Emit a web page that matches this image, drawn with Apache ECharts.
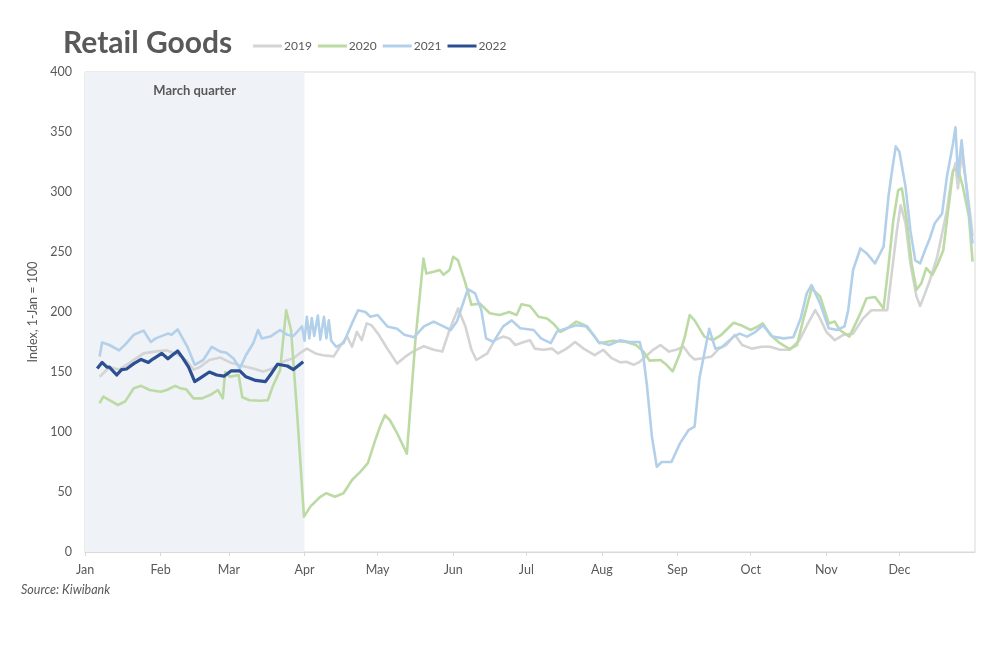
<!DOCTYPE html>
<html>
<head>
<meta charset="utf-8">
<script src="https://cdn.jsdelivr.net/npm/echarts@6/dist/echarts.min.js"></script>
<style>html,body{margin:0;padding:0;background:#fff}#c{width:1000px;height:664px}</style>
</head>
<body>
<div id="c"></div>
<script>
// ---- data (day of year, index value) ----
const monthNames = ['Jan','Feb','Mar','Apr','May','Jun','Jul','Aug','Sep','Oct','Nov','Dec'];
const monthStarts = [0,31,59,90,120,151,181,212,243,273,304,334];
const yTicks = [0,50,100,150,200,250,300,350,400];
const seriesNames = ['2019','2020','2021','2022'];

const days2019 = [6,10,14,18.5,24,28.5,33.5,37.5,41.5,44.5,47,51,55.5,59.5,62,65.5,69,73,77,81,85.5,88,91,94.5,97.5,102,104.5,107.5,109.5,111.5,113.5,115.5,117.5,120.5,123.5,128,131.5,134.5,139,143,146.5,149.5,153,156,158.5,160.5,165,168,171.5,174,176.5,180,182.5,184.5,188,191.5,194,197.5,201,204.5,209,212.5,216,219.5,222,225,227.5,230.5,233,236,239.5,242.5,245.5,248,250,253.5,257,260,263,266.5,269.5,273.5,277.5,281,285,289,293,296.5,299.5,301.5,304,307.5,311,315,319,322.5,326,329,331,333,334.5,336.5,338.5,341,342.5,344.5,346.5,349.5,351.5,353.5,355.5,357,358,359.5,361,363,364];
const vals2019 = [146,154,152,158,165.5,167,168,165,160,152,154,160,162,158,156.5,154.5,153,150.5,153,158.5,161.5,165.5,169.5,165.5,164,163,171,179.5,171,183.5,176.5,190.5,189,181,171,157,163,167,171.5,168.5,167,185,203,188,168.5,160,165.5,176.5,179.5,178,172.5,175,176.5,169.5,168.5,169.5,165.5,169.5,175,169.5,164,168.5,161.5,158,158.5,156,158.5,164,168.5,172.5,167,168.5,171,164,160.5,161.5,163,169.5,172.5,181,172.5,169.5,171,171,168.5,168.5,176.5,190.5,201.5,194.5,183.5,176.5,181,182,194.5,201.5,201.5,201.5,235,268,289,274,240.5,213,205,215.5,226.5,246,265.5,285,313,324,303,332,313,282,263];

const days2020 = [6,7.5,10,13.5,16.5,20,23,26.5,31,33.5,37,39,41.5,44.5,48,51.5,54.5,56.5,57.5,59.5,63,64.5,67.5,72,75,77,80,82.5,84.5,87,89.8,92.5,96.5,99,102.5,106,109.5,113,116,119,121,123,125,128,132,135.5,138.8,140,143,145.5,147,149.5,151,153,156,158.5,162,166,170,174,177,179,182.5,186,189.5,192,195,197.5,201.5,205,208.5,211,216.5,222,226,229,231.5,236,238.5,241,244,246,248,250,254,257.5,261,266,269,273,276,278,281,285,289,292,294.5,298,301.5,305,307.5,309.5,313.5,318,320.5,324,327.5,329.5,331.5,333.5,335,337,339,341,343,345,347.5,349.5,352,354,356,358,360,362.5,364];
const vals2020 = [124,129.5,126.5,122.5,125.5,136.5,138.5,135,133.5,135,138.5,136.5,135.5,128,128,131,135,128,150,146,147.5,129,126.5,126,126.5,138,151.5,201.5,185,115.5,29.5,38,46,49,46,49,60,67,74,93,104.5,114,110,99,82,176.5,244.5,232,233.5,235,231,235,246,243,224,206,207,199,197.5,200,197.5,206.5,205,196,194.5,190.5,183.5,186,192,189,181,174,176,175,172.5,167,159.5,160,156,150.5,165.5,179.5,197.5,193,179.5,176.5,181,191,189,185,188,190.5,181,174,169,172.5,193,219.5,213,190.5,192,185,179.5,199,211.5,212.5,203,238,276.5,301.5,303,276.5,240.5,218.5,224,236.5,231,239,251.5,285,318,319.5,304.5,279.5,242];

const days2021 = [6,7,10,14,17,20,24,27,29,34,35.5,38,42,45,48.5,52,55.5,58,61,63.5,66,69,71,72.5,76,80,83,85.5,89,90,91,92,93,94,95.5,96.5,98,99,100,101,103,106,109.5,112,115,117,120,124,128,131,135,139,143,147,150,152.5,155,157,160,162.5,164.5,167.5,171.5,175,178.5,184,187,191,193.5,197.5,201.5,206,210.5,215,219.5,223.5,227.5,229,230.5,232.5,234.5,236.5,240.5,244,247.5,250,252,256,258.5,261,266,268.5,271.5,275,278,282,286.5,290.5,293.5,296,298,301.5,305,308.5,311.5,313,315,318,320.5,324,327.5,329.5,331,332.5,334,336.5,338.5,340.5,342.5,344.5,346.5,348.5,351.5,353.5,356,357,358,359.5,361,363,364];
const vals2021 = [163,174.5,172.5,168,174,181,184.5,175,178,182,181,185.5,171,156,160,171,167,166,161,153,164,174,185,178,179.5,185,181,180,188,176,196,178,195,180,197,177,196,178,193,176,171,174,190.5,201.5,200,196,197.5,188,186,181,179,188,192,188,185,192,207,219,215.5,202,178,175,188,193,186.5,185,178,174,183.5,186.5,189,188,175,172.5,176.5,175,175,163,138,96,71,75,75,90.5,101.5,104.5,145,186,169.5,170.5,179.5,182,179.5,183.5,189,179.5,178,179,194.5,215.5,222.5,207,186.5,185,188,201.5,235,253,249,240.5,254.5,296,318,338,333.5,304.5,268,243,240.5,251.5,261.5,274,282,313,340.5,354,313,343,313,276.5,257];

const days2022 = [5,7,9,10,13,15,17,20,23,26,28,31.5,34,35.5,38,40,42.5,45,48,51,54,57,60,63.5,66,70,74,76.5,79,83,85.5,89.5];
const vals2022 = [153,158,154,154,147.5,152,152.5,157,160.5,158,161,165.5,161,163.5,167.5,162,154,142,146,150,147.5,146.5,151,151,146,143,142,149,156.5,155,152,158.5];

const quarterStart = 0, quarterEnd = 90;

function zip(d, v){ return d.map((x,i)=>[x, v[i]]); }

const TXT = '#595959';
const FONT = 'Lato';
const chart = echarts.init(document.getElementById('c'), null, {renderer:'canvas'});

const lineDefs = [
  {name: seriesNames[0], d: zip(days2019, vals2019), color:'#d4d4d4', w:2.6},
  {name: seriesNames[1], d: zip(days2020, vals2020), color:'#bcdaa4', w:2.6},
  {name: seriesNames[2], d: zip(days2021, vals2021), color:'#b3d0ea', w:2.6},
  {name: seriesNames[3], d: zip(days2022, vals2022), color:'#2c4f92', w:3.2}
];

const series = [{
  type:'line', data:[], z:1, silent:true,
  markArea:{
    silent:true,
    itemStyle:{color:'#eff2f7'},
    label:{show:true, position:'insideTop', distance:12, color:TXT, fontFamily:FONT, fontWeight:'bold', fontSize:13},
    data:[[{name:'March quarter', xAxis:quarterStart},{xAxis:quarterEnd}]]
  }
}].concat(lineDefs.map((s,i)=>({
  name:s.name, type:'line', data:s.d, showSymbol:false, symbol:'none', z:2+i,
  lineStyle:{color:s.color, width:s.w, join:'round'}, itemStyle:{color:s.color},
  animation:false
})));

chart.setOption({
  animation:false,
  backgroundColor:'#fff',
  textStyle:{fontFamily:FONT},
  title:{text:'Retail Goods', left:58, top:23, textStyle:{fontSize:30, fontWeight:'bold', color:TXT, fontFamily:FONT}},
  legend:{
    data:seriesNames, left:248, top:35, icon:'rect', itemWidth:29, itemHeight:3, itemGap:6,
    textStyle:{color:TXT, fontSize:12, fontFamily:FONT, padding:[0,0,0,-3]}
  },
  grid:{left:85, right:25, top:72, bottom:112, show:true, borderColor:'#d9d9d9', borderWidth:1},
  xAxis:{
    type:'value', min:0, max:365,
    axisLine:{show:true, lineStyle:{color:'#d9d9d9'}},
    axisTick:{show:true, customValues:monthStarts, length:4, lineStyle:{color:'#d9d9d9'}},
    axisLabel:{customValues:monthStarts, color:TXT, fontSize:12.5, margin:11, fontFamily:FONT,
      formatter:(v)=>{const i=monthStarts.indexOf(Math.round(v)); return i>=0?monthNames[i]:'';}},
    splitLine:{show:false}
  },
  yAxis:{
    type:'value', min:yTicks[0], max:yTicks[yTicks.length-1], interval:50,
    name:'Index, 1-Jan = 100', nameLocation:'middle', nameGap:37,
    nameTextStyle:{color:TXT, fontSize:12.5, fontFamily:FONT},
    axisLine:{show:true, lineStyle:{color:'#d9d9d9'}},
    axisTick:{show:false},
    axisLabel:{color:TXT, fontSize:12.5, margin:13, fontFamily:FONT},
    splitLine:{show:false}
  },
  graphic:[{type:'text', left:21, top:583, style:{text:'Source: Kiwibank', fill:TXT, font:'italic 12.5px Lato'}}],
  series:series
});
</script>
</body>
</html>
